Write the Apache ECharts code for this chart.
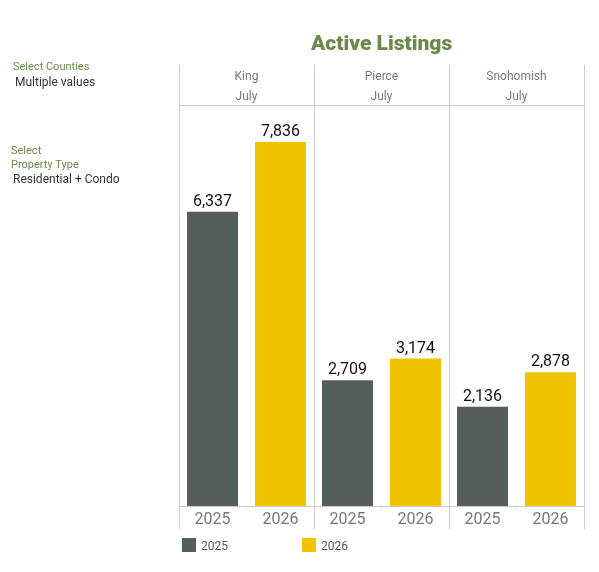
<!DOCTYPE html>
<html>
<head>
<meta charset="utf-8">
<style>
html,body{margin:0;padding:0;background:#fff;}
#chart{width:599px;height:572px;}
</style>
<script src="https://cdn.jsdelivr.net/npm/echarts@6/dist/echarts.min.js"></script>
</head>
<body>
<div id="chart"></div>
<script>
// data
var counties = ['King', 'Pierce', 'Snohomish'];
var month = 'July';
var years = ['2025', '2026'];
var values_2025 = [6337, 2709, 2136];
var values_2026 = [7836, 3174, 2878];
var year_colors = ['#545e5b', '#f0c400'];

var green = '#6a8a4c';
var grey_line = '#cccccc';
var grey_text = '#777777';
var font = 'Roboto';

// pane layout
var pane_left = 180, pane_width = 135;
var frame_top = 65, head_line = 105, axis_y = 506, frame_bottom = 529;

var grids = [], x_axes = [], y_axes = [], series = [], graphics = [];

function add_text(text, x, y, size, color, align){
	graphics.push({
		type: 'text', x: x, y: y,
		style: {text: text, font: size + 'px ' + font, fill: color, textAlign: align || 'left', textVerticalAlign: 'middle'}
	});
}

function add_line(x1, y1, x2, y2, color){
	graphics.push({
		type: 'line', silent: true, z: 10,
		shape: {x1: x1, y1: y1, x2: x2, y2: y2},
		style: {stroke: color || grey_line, lineWidth: 1}
	});
}

function bar_series(name, index, value, color){
	return {
		type: 'bar', name: name, xAxisIndex: index, yAxisIndex: index,
		data: name === years[0] ? [value, null] : [null, value],
		barWidth: 51, barGap: '-100%',
		itemStyle: {color: color},
		label: {
			show: true, position: 'top', distance: 2, color: '#111', fontFamily: font, fontSize: 16,
			formatter: function(p){ return p.value.toLocaleString('en-US'); }
		}
	};
}

counties.forEach(function(county, i){
	var left = pane_left + i * pane_width;
	// one px wider than the pane so the bars land on whole pixels
	grids.push({left: left - 1.5, width: pane_width + 1, top: head_line, height: axis_y - head_line});
	x_axes.push({
		type: 'category', gridIndex: i, data: years,
		axisLine: {show: false},
		axisTick: {show: false},
		axisLabel: {color: grey_text, fontFamily: font, fontSize: 16, margin: 6}
	});
	y_axes.push({type: 'value', gridIndex: i, min: 0, max: 8633, show: false, splitLine: {show: false}});
	series.push(bar_series(years[0], i, values_2025[i], year_colors[0]));
	series.push(bar_series(years[1], i, values_2026[i], year_colors[1]));
	add_text(county, left + pane_width / 2 - 1, 77, 12, grey_text, 'center');
	add_text(month, left + pane_width / 2 - 1, 97, 12, grey_text, 'center');
	// small tick between the two years
	add_line(left + 66.5, axis_y + 1, left + 66.5, axis_y + 4, '#e6e6e6');
});

// frame around the panes
var frame_right = pane_left - 0.5 + counties.length * pane_width;
for(var i = 0; i <= counties.length; i++){
	var line_x = pane_left - 0.5 + i * pane_width;
	add_line(line_x, frame_top, line_x, frame_bottom);
}
add_line(pane_left - 0.5, head_line + 0.5, frame_right, head_line + 0.5);
add_line(pane_left - 0.5, axis_y + 0.5, frame_right, axis_y + 0.5);

// filter panel on the left
add_text('Select Counties', 13, 67, 11, green);
add_text('Multiple values', 15, 82.5, 12, '#333333');
add_text('Select', 11, 151, 11, green);
add_text('Property Type', 11, 165, 11, green);
add_text('Residential + Condo', 13, 180, 12, '#333333');

var myChart = echarts.init(document.getElementById('chart'), null, {renderer: 'canvas'});
myChart.setOption({
	animation: false,
	backgroundColor: '#ffffff',
	title: {
		text: 'Active Listings', left: 311, top: 34, padding: 0,
		textStyle: {color: green, fontFamily: font, fontSize: 21, fontWeight: 900}
	},
	legend: {
		data: years, left: 182, top: 538, itemWidth: 14, itemHeight: 14, itemGap: 74, padding: 0,
		icon: 'rect', selectedMode: false,
		formatter: '{t|{name}}',
		textStyle: {
			rich: {t: {color: '#555555', fontFamily: font, fontSize: 12, padding: [4, 0, 0, 0]}}
		}
	},
	grid: grids,
	xAxis: x_axes,
	yAxis: y_axes,
	series: series,
	graphic: graphics
});
</script>
</body>
</html>
